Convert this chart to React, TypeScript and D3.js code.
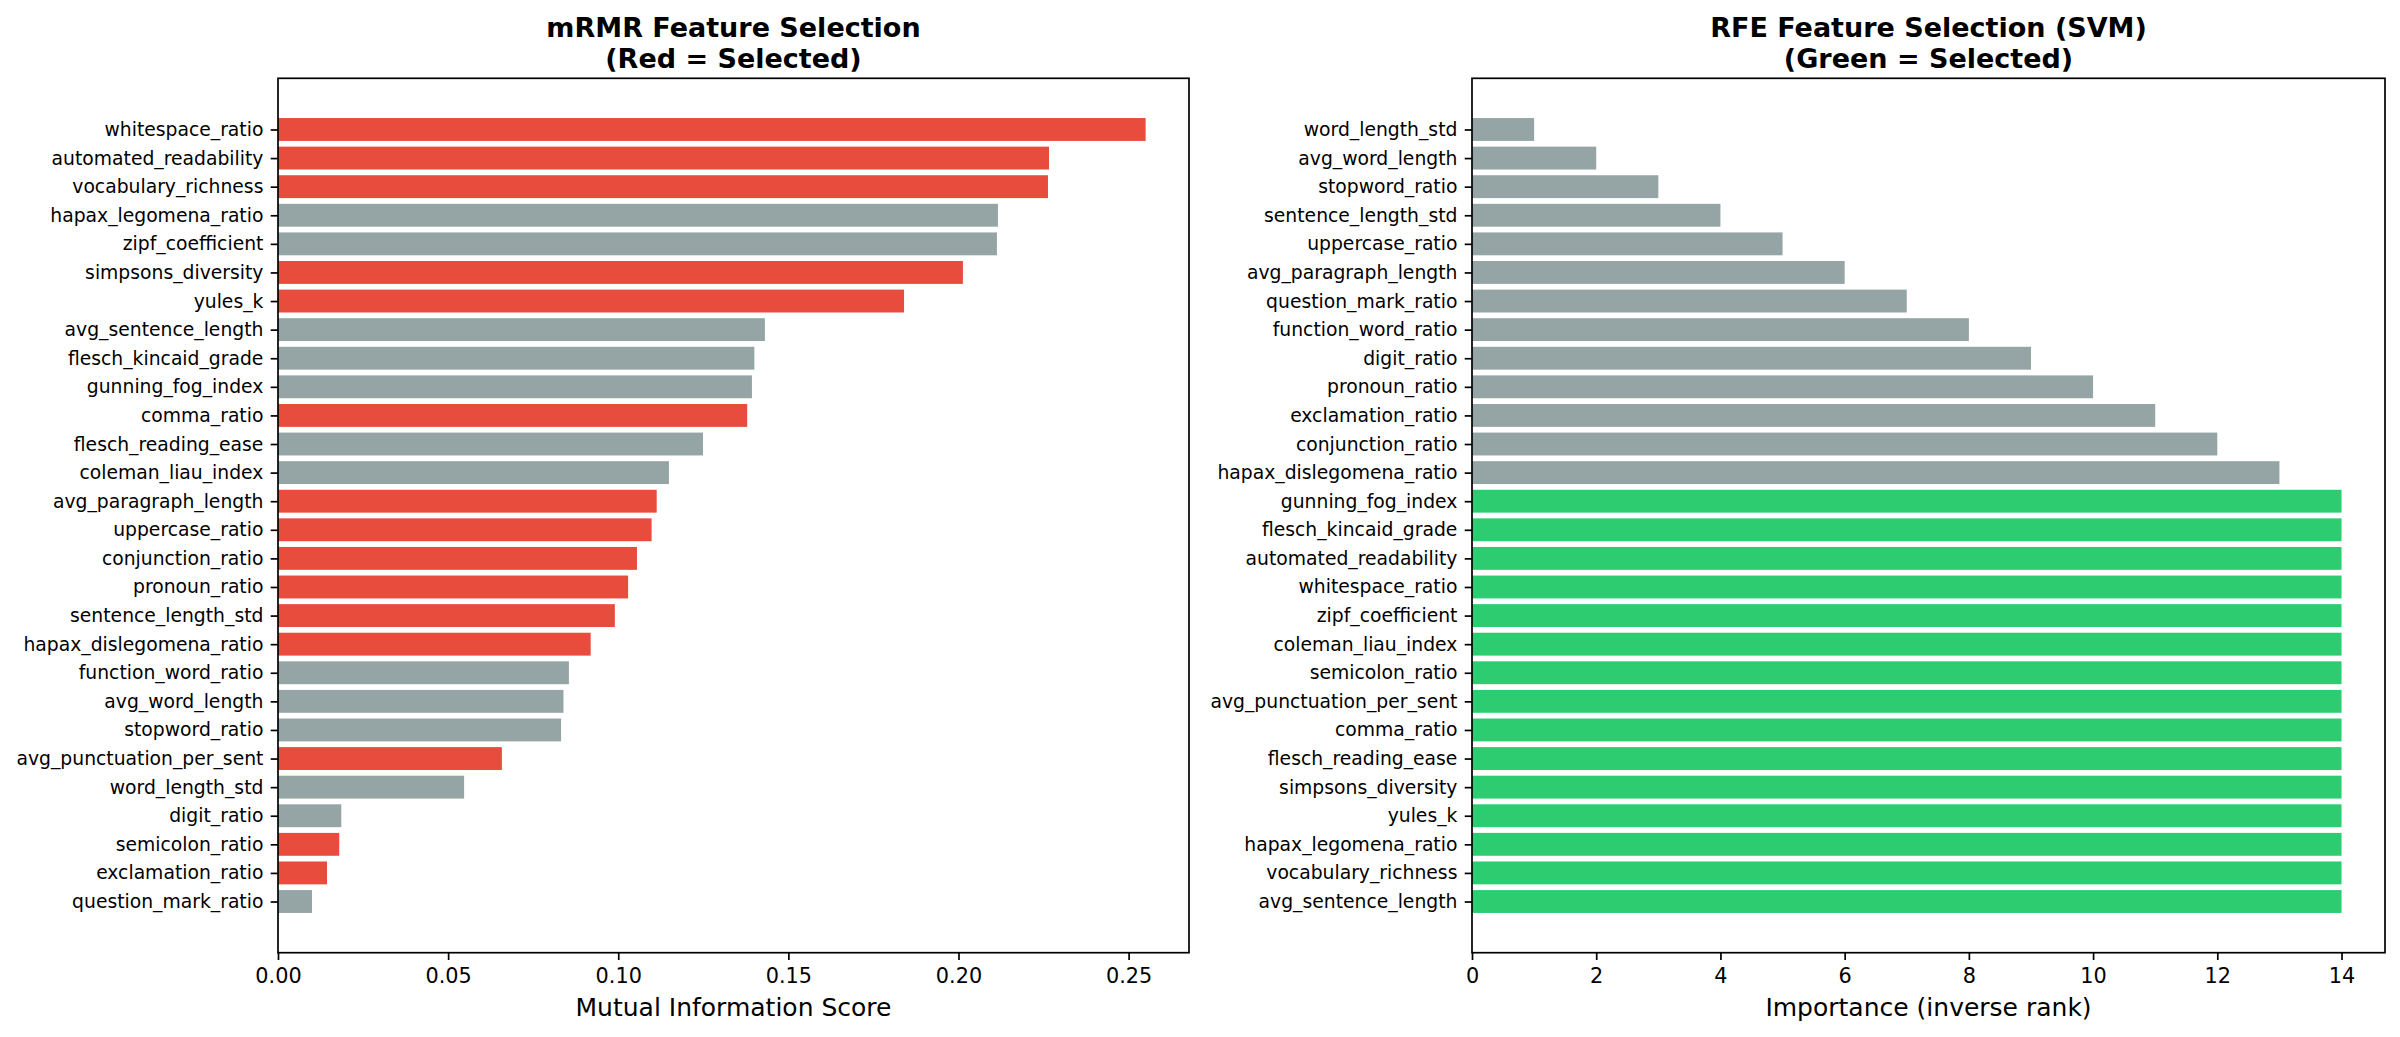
import React, { useRef, useEffect } from 'react';
import * as d3 from 'd3';

// mRMR ranking, top bar first
const mrmrFeatures = [
  'whitespace_ratio', 'automated_readability', 'vocabulary_richness', 'hapax_legomena_ratio',
  'zipf_coefficient', 'simpsons_diversity', 'yules_k', 'avg_sentence_length',
  'flesch_kincaid_grade', 'gunning_fog_index', 'comma_ratio', 'flesch_reading_ease',
  'coleman_liau_index', 'avg_paragraph_length', 'uppercase_ratio', 'conjunction_ratio',
  'pronoun_ratio', 'sentence_length_std', 'hapax_dislegomena_ratio', 'function_word_ratio',
  'avg_word_length', 'stopword_ratio', 'avg_punctuation_per_sent', 'word_length_std',
  'digit_ratio', 'semicolon_ratio', 'exclamation_ratio', 'question_mark_ratio',
];
const mrmrScores = [
  0.2550, 0.2266, 0.2263, 0.2116, 0.2113, 0.2013, 0.1840, 0.1431,
  0.1400, 0.1393, 0.1379, 0.1249, 0.1149, 0.1113, 0.1098, 0.1055,
  0.1029, 0.0990, 0.0919, 0.0855, 0.0839, 0.0832, 0.0658, 0.0547,
  0.0186, 0.0180, 0.0144, 0.0100,
];
const mrmrSelected = [
  true, true, true, false, false, true, true, false,
  false, false, true, false, false, true, true, true,
  true, true, true, false, false, false, true, false,
  false, true, true, false,
];

// RFE (SVM) ranking, top bar first
const rfeFeatures = [
  'word_length_std', 'avg_word_length', 'stopword_ratio', 'sentence_length_std',
  'uppercase_ratio', 'avg_paragraph_length', 'question_mark_ratio', 'function_word_ratio',
  'digit_ratio', 'pronoun_ratio', 'exclamation_ratio', 'conjunction_ratio',
  'hapax_dislegomena_ratio', 'gunning_fog_index', 'flesch_kincaid_grade', 'automated_readability',
  'whitespace_ratio', 'zipf_coefficient', 'coleman_liau_index', 'semicolon_ratio',
  'avg_punctuation_per_sent', 'comma_ratio', 'flesch_reading_ease', 'simpsons_diversity',
  'yules_k', 'hapax_legomena_ratio', 'vocabulary_richness', 'avg_sentence_length',
];
const rfeImportance = [
  1, 2, 3, 4, 5, 6, 7, 8, 9, 10, 11, 12, 13,
  14, 14, 14, 14, 14, 14, 14, 14, 14, 14, 14, 14, 14, 14, 14,
];
const rfeSelected = rfeImportance.map((v) => v === 14);

const mrmrTicks = [0, 0.05, 0.1, 0.15, 0.2, 0.25];
const rfeTicks = [0, 2, 4, 6, 8, 10, 12, 14];

const WIDTH = 2400;
const HEIGHT = 1037;
const FONT = "'DejaVu Sans', sans-serif";
const RED = '#e74c3c';
const GRAY = '#95a5a6';
const GREEN = '#2ecc71';

const drawPanel = (svg, opts) => {
  const { left, right, top, bottom, features, values, selected, color, ticks, format, title, xlabel } = opts;
  const n = features.length;

  // matplotlib-style autoscale: 5% margin around the bar extents
  const yPad = 0.05 * (n - 1 + 0.8);
  const y = d3.scaleLinear().domain([-0.4 - yPad, n - 1 + 0.4 + yPad]).range([top, bottom]);
  const x = d3.scaleLinear().domain([0, d3.max(values) * 1.05]).range([left, right]);

  const g = svg.append('g');

  g.selectAll('rect.bar')
    .data(values)
    .join('rect')
    .attr('class', 'bar')
    .attr('x', x(0))
    .attr('y', (d, i) => y(i - 0.4))
    .attr('width', (d) => x(d) - x(0))
    .attr('height', (d, i) => y(i + 0.4) - y(i - 0.4))
    .attr('fill', (d, i) => (selected[i] ? color : GRAY));

  // x axis
  const xAxis = g.append('g')
    .attr('transform', `translate(0,${bottom})`)
    .call(d3.axisBottom(x).tickValues(ticks).tickFormat(format).tickSize(7.3).tickPadding(8.5));
  xAxis.select('.domain').remove();
  xAxis.selectAll('line').attr('stroke', '#000').attr('stroke-width', 1.7);
  xAxis.selectAll('text')
    .attr('fill', '#000')
    .style('font-family', FONT)
    .style('font-size', '20.8px');

  // y axis with feature names
  const yAxis = g.append('g')
    .attr('transform', `translate(${left},0)`)
    .call(d3.axisLeft(y).tickValues(d3.range(n)).tickFormat((i) => features[i]).tickSize(7.3).tickPadding(7.3));
  yAxis.select('.domain').remove();
  yAxis.selectAll('line').attr('stroke', '#000').attr('stroke-width', 1.7);
  yAxis.selectAll('text')
    .attr('fill', '#000')
    .style('font-family', FONT)
    .style('font-size', '18.75px');

  // frame
  g.append('rect')
    .attr('x', left)
    .attr('y', top)
    .attr('width', right - left)
    .attr('height', bottom - top)
    .attr('fill', 'none')
    .attr('stroke', '#000')
    .attr('stroke-width', 1.7);

  const cx = (left + right) / 2;

  const t = g.append('text')
    .attr('text-anchor', 'middle')
    .style('font-family', FONT)
    .style('font-size', '27px')
    .style('font-weight', 'bold');
  title.forEach((line, i) => {
    t.append('tspan').attr('x', cx).attr('y', 36.5 + i * 31).text(line);
  });

  g.append('text')
    .attr('x', cx)
    .attr('y', 1016)
    .attr('text-anchor', 'middle')
    .style('font-family', FONT)
    .style('font-size', '25px')
    .text(xlabel);
};

const App = () => {
  const chartRef = useRef(null);

  useEffect(() => {
    const svg = d3.select(chartRef.current);
    svg.selectAll('*').remove();

    svg.append('rect').attr('width', WIDTH).attr('height', HEIGHT).attr('fill', '#fff');

    drawPanel(svg, {
      left: 278, right: 1189, top: 78.3, bottom: 952.7,
      features: mrmrFeatures,
      values: mrmrScores,
      selected: mrmrSelected,
      color: RED,
      ticks: mrmrTicks,
      format: d3.format('.2f'),
      title: ['mRMR Feature Selection', '(Red = Selected)'],
      xlabel: 'Mutual Information Score',
    });

    drawPanel(svg, {
      left: 1472, right: 2385, top: 78.3, bottom: 952.7,
      features: rfeFeatures,
      values: rfeImportance,
      selected: rfeSelected,
      color: GREEN,
      ticks: rfeTicks,
      format: d3.format('d'),
      title: ['RFE Feature Selection (SVM)', '(Green = Selected)'],
      xlabel: 'Importance (inverse rank)',
    });
  }, []);

  return (
    <svg
      ref={chartRef}
      width={WIDTH}
      height={HEIGHT}
      style={{ position: 'absolute', left: 0, top: 0, display: 'block' }}
    />
  );
};

export default App;
